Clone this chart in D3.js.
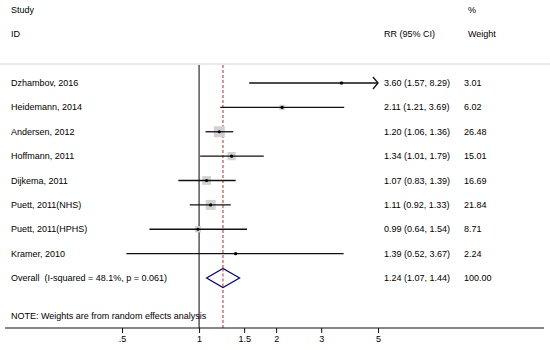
<!DOCTYPE html>
<html>
<head>
<meta charset="utf-8">
<script src="https://cdn.jsdelivr.net/npm/d3@7"></script>
<style>
  body { margin: 0; background: #fff; }
  svg text { font-family: "Liberation Sans", Arial, sans-serif; font-size: 9px; fill: #000; white-space: pre; }
</style>
</head>
<body>
<svg id="chart" width="550" height="350"></svg>
<script>
// ========= data =========
const studies = [
    "Dzhambov, 2016",
    "Heidemann, 2014",
    "Andersen, 2012",
    "Hoffmann, 2011",
    "Dijkema, 2011",
    "Puett, 2011(NHS)",
    "Puett, 2011(HPHS)",
    "Kramer, 2010"
];
const rr = [3.60, 2.11, 1.20, 1.34, 1.07, 1.11, 0.99, 1.39];
const lower = [1.57, 1.21, 1.06, 1.01, 0.83, 0.92, 0.64, 0.52];
const upper = [8.29, 3.69, 1.36, 1.79, 1.39, 1.33, 1.54, 3.67];
const weights = [3.01, 6.02, 26.48, 15.01, 16.69, 21.84, 8.71, 2.24];

const overallLabel = "Overall\u00a0\u00a0(I-squared = 48.1%, p = 0.061)";
const overall = { rr: 1.24, lo: 1.07, hi: 1.44, weight: 100.00 };

const tickValues = [0.5, 1, 1.5, 2, 3, 5];
const tickLabels = [".5", "1", "1.5", "2", "3", "5"];

const noteText = "NOTE: Weights are from random effects analysis";

// ========= svg =========
const svg = d3.select("#chart");
const width = +svg.attr("width");

const colLabel = 11;
const colCI = 384;
const colWeight = 464;

const topRule = 64;
const axisY = 328;

const x = d3.scaleLog()
    .domain([0.5, 5])
    .range([122, 378]);
const xMax = 5;

// rows: 8 studies + overall
const y = d3.scaleLinear()
    .domain([0, 8])
    .range([83, 278]);

const box = d3.scaleSqrt()
    .domain([0, d3.max(weights)])
    .range([0, 11]);

const fmt = d3.format(".2f");

// ========= header =========
svg.append("text").attr("x", colLabel).attr("y", 13).text("Study");
svg.append("text").attr("x", colLabel).attr("y", 37).text("ID");
svg.append("text").attr("x", colCI).attr("y", 37).text("RR (95% CI)");
svg.append("text").attr("x", colWeight + 4).attr("y", 13).text("%");
svg.append("text").attr("x", colWeight + 4).attr("y", 37).text("Weight");

svg.append("line")
    .attr("x1", 0).attr("x2", width)
    .attr("y1", topRule).attr("y2", topRule)
    .attr("stroke", "#d4d4d4")
    .attr("stroke-width", 1);

// ========= reference lines =========
svg.append("line")
    .attr("x1", x(1)).attr("x2", x(1))
    .attr("y1", topRule + 1).attr("y2", axisY)
    .attr("stroke", "#000")
    .attr("stroke-width", 1);

svg.append("line")
    .attr("x1", x(overall.rr)).attr("x2", x(overall.rr))
    .attr("y1", topRule + 1).attr("y2", axisY)
    .attr("stroke", "#c0282d")
    .attr("stroke-width", 1)
    .attr("stroke-dasharray", "3,2");

// ========= studies =========
const rows = studies.map((s, i) => ({
    name: s, rr: rr[i], lo: lower[i], hi: upper[i], w: weights[i], i
}));

const g = svg.append("g");

g.selectAll(".wbox")
    .data(rows)
    .join("rect")
    .attr("class", "wbox")
    .attr("x", d => x(d.rr) - box(d.w) / 2)
    .attr("y", d => y(d.i) - box(d.w) / 2)
    .attr("width", d => box(d.w))
    .attr("height", d => box(d.w))
    .attr("fill", "#d2d2d2");

g.selectAll(".ci")
    .data(rows)
    .join("line")
    .attr("class", "ci")
    .attr("x1", d => x(d.lo))
    .attr("x2", d => x(Math.min(d.hi, xMax)))
    .attr("y1", d => y(d.i))
    .attr("y2", d => y(d.i))
    .attr("stroke", "#111")
    .attr("stroke-width", 1.3);

// arrow for CIs beyond the axis
g.selectAll(".arrow")
    .data(rows.filter(d => d.hi > xMax))
    .join("path")
    .attr("class", "arrow")
    .attr("d", d => {
        const ax = x(xMax), ay = y(d.i);
        return `M${ax - 5},${ay - 6}L${ax},${ay}L${ax - 5},${ay + 6}`;
    })
    .attr("fill", "none")
    .attr("stroke", "#111")
    .attr("stroke-width", 1.3);

g.selectAll(".pt")
    .data(rows)
    .join("circle")
    .attr("class", "pt")
    .attr("cx", d => x(d.rr))
    .attr("cy", d => y(d.i))
    .attr("r", 1.6)
    .attr("fill", "#000");

g.selectAll(".lab")
    .data(rows)
    .join("text")
    .attr("class", "lab")
    .attr("x", colLabel)
    .attr("y", d => y(d.i) + 3)
    .text(d => d.name);

g.selectAll(".citxt")
    .data(rows)
    .join("text")
    .attr("class", "citxt")
    .attr("x", colCI)
    .attr("y", d => y(d.i) + 3)
    .text(d => `${fmt(d.rr)} (${fmt(d.lo)}, ${fmt(d.hi)})`);

g.selectAll(".wtxt")
    .data(rows)
    .join("text")
    .attr("class", "wtxt")
    .attr("x", colWeight)
    .attr("y", d => y(d.i) + 3)
    .text(d => fmt(d.w));

// ========= overall =========
const oy = y(8);
svg.append("path")
    .attr("d", `M${x(overall.lo)},${oy}L${x(overall.rr)},${oy - 9.5}L${x(overall.hi)},${oy}L${x(overall.rr)},${oy + 9.5}Z`)
    .attr("fill", "#fff")
    .attr("stroke", "#000080")
    .attr("stroke-width", 1.2);

// redraw dashed line over diamond fill
svg.append("line")
    .attr("x1", x(overall.rr)).attr("x2", x(overall.rr))
    .attr("y1", oy - 9.5).attr("y2", oy + 9.5)
    .attr("stroke", "#c0282d")
    .attr("stroke-width", 1)
    .attr("stroke-dasharray", "3,2");

svg.append("text").attr("x", colLabel).attr("y", oy + 3).text(overallLabel);
svg.append("text").attr("x", colCI).attr("y", oy + 3)
    .text(`${fmt(overall.rr)} (${fmt(overall.lo)}, ${fmt(overall.hi)})`);
svg.append("text").attr("x", colWeight).attr("y", oy + 3).text(fmt(overall.weight));

svg.append("text").attr("x", colLabel).attr("y", 319).text(noteText);

// ========= axis =========
svg.append("line")
    .attr("x1", 5).attr("x2", 544)
    .attr("y1", axisY).attr("y2", axisY)
    .attr("stroke", "#111")
    .attr("stroke-width", 1.2);

svg.append("g")
    .attr("transform", `translate(0,${axisY})`)
    .call(d3.axisBottom(x)
        .tickValues(tickValues)
        .tickFormat((d, i) => tickLabels[i])
        .tickSize(5)
        .tickPadding(3))
    .call(a => a.select(".domain").remove())
    .call(a => a.selectAll("line").attr("stroke", "#111"))
    .call(a => a.selectAll("text")
        .attr("font-family", "Liberation Sans, Arial, sans-serif")
        .attr("font-size", 9));
</script>
</body>
</html>
